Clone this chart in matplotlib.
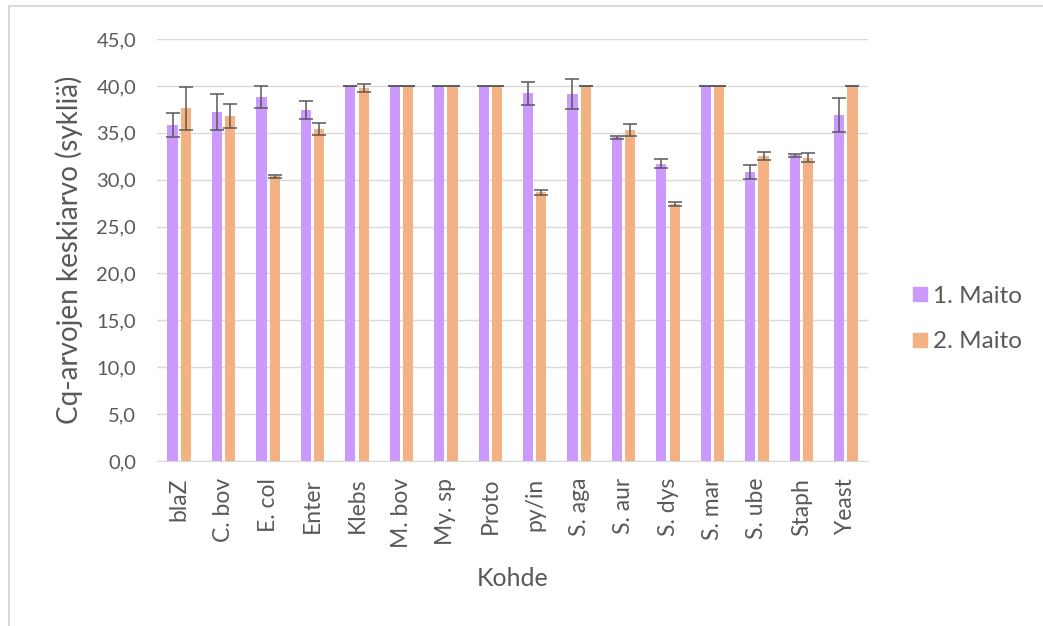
import matplotlib.pyplot as plt
import numpy as np
from matplotlib.lines import Line2D
from matplotlib.ticker import FuncFormatter

# -------------------------------
# Data
# -------------------------------
categories = ["blaZ", "C. bov", "E. col", "Enter", "Klebs", "M. bov", "My. sp", "Proto",
              "py/in", "S. aga", "S. aur", "S. dys", "S. mar", "S. ube", "Staph", "Yeast"]
maito1 = [35.8, 37.2, 38.8, 37.4, 40.0, 40.0, 40.0, 40.0,
          39.2, 39.1, 34.5, 31.7, 40.0, 30.8, 32.6, 36.9]
maito1_err = [1.3, 1.9, 1.2, 0.95, 0.0, 0.0, 0.0, 0.0,
              1.2, 1.6, 0.2, 0.5, 0.0, 0.75, 0.15, 1.85]
maito2 = [37.6, 36.8, 30.35, 35.4, 39.8, 40.0, 40.0, 40.0,
          28.65, 40.0, 35.3, 27.4, 40.0, 32.5, 32.35, 40.0]
maito2_err = [2.3, 1.3, 0.2, 0.65, 0.45, 0.0, 0.0, 0.0,
              0.3, 0.0, 0.6, 0.2, 0.0, 0.45, 0.45, 0.0]

PURPLE = "#CC99FF"
ORANGE = "#F4B183"
GREY = "#595959"

plt.rcParams["font.family"] = ["Lato", "DejaVu Sans"]

fig = plt.figure(figsize=(10.43, 6.26), dpi=100)
ax = fig.add_axes([157 / 1043, 1 - 461 / 626, (868 - 157) / 1043, (461 - 39) / 626])

x = np.arange(len(categories))
w = 0.23
off = 0.15
err_kw = dict(ecolor=GREY, elinewidth=1.1, capsize=5, capthick=1.1)
ax.bar(x - off, maito1, w, yerr=maito1_err, color=PURPLE, label="1. Maito",
       error_kw=err_kw, zorder=2)
ax.bar(x + off, maito2, w, yerr=maito2_err, color=ORANGE, label="2. Maito",
       error_kw=err_kw, zorder=2)

ax.set_xlim(-0.5, len(categories) - 0.5)
ax.set_ylim(0, 45)
ax.set_yticks(np.arange(0, 46, 5))
ax.yaxis.set_major_formatter(FuncFormatter(lambda v, p: f"{v:.1f}".replace(".", ",")))
ax.set_xticks(x)
ax.set_xticklabels(categories, rotation=90)

ax.grid(axis="y", color="#D9D9D9", linewidth=1, zorder=0)
ax.set_axisbelow(True)
for s in ["top", "right", "left"]:
    ax.spines[s].set_visible(False)
ax.spines["bottom"].set_color("#D9D9D9")
ax.tick_params(axis="both", length=0, colors=GREY)
ax.tick_params(axis="y", pad=15, labelsize=14.5)
ax.tick_params(axis="x", pad=12, labelsize=16.5)

ax.set_xlabel("Kohde", color=GREY, fontsize=18, labelpad=14)
ax.set_ylabel("Cq-arvojen keskiarvo (sykliä)", color=GREY, fontsize=20, labelpad=10)

handles = [Line2D([], [], marker="s", linestyle="none", markersize=10,
                  markerfacecolor=c, markeredgecolor=c) for c in (PURPLE, ORANGE)]
fig.legend(handles, ["1. Maito", "2. Maito"], loc="center left",
           bbox_to_anchor=(910 / 1043, 1 - 319 / 626), frameon=False,
           fontsize=17.5, labelcolor=GREY, handlelength=0.8, handletextpad=0.15,
           borderpad=0, borderaxespad=0, labelspacing=1.0)

# outer chart border (top and left visible in the crop)
fig.add_artist(Line2D([9 / 1043, 9 / 1043], [0, 1 - 6 / 626], transform=fig.transFigure,
                      color="#D9D9D9", linewidth=1.5))
fig.add_artist(Line2D([9 / 1043, 1], [1 - 6 / 626, 1 - 6 / 626], transform=fig.transFigure,
                      color="#D9D9D9", linewidth=1.5))

plt.savefig("out.png", dpi=100)
